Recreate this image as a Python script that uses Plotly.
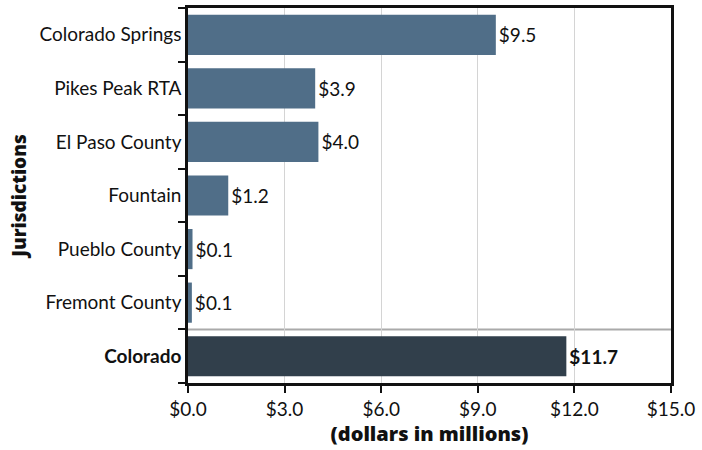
import plotly.graph_objects as go

categories = ["Colorado", "Fremont County", "Pueblo County", "Fountain",
              "El Paso County", "Pikes Peak RTA", "Colorado Springs"]
values = [11.75, 0.12, 0.14, 1.25, 4.05, 3.95, 9.56]
value_labels = ["$11.7", "$0.1", "$0.1", "$1.2", "$4.0", "$3.9", "$9.5"]
tick_labels = ["<b>Colorado</b>", "Fremont County", "Pueblo County", "Fountain",
               "El Paso County", "Pikes Peak RTA", "Colorado Springs"]
x_ticks = [0, 3, 6, 9, 12, 15]
x_tick_labels = ["$0.0", "$3.0", "$6.0", "$9.0", "$12.0", "$15.0"]

FONT = "Lato"
TITLE_FONT = "Open Sans"
colors = ["#313f4b"] + ["#506e88"] * 6
text_labels = ["<b>" + value_labels[0] + "</b>"] + value_labels[1:]

fig = go.Figure(go.Bar(
    x=values, y=categories, orientation="h",
    marker=dict(color=colors, line=dict(width=0)),
    text=text_labels, textposition="outside", cliponaxis=False,
    textfont=dict(family=FONT, size=19, color="#111"),
    hoverinfo="skip",
))

fig.add_shape(type="line", xref="paper", yref="y", x0=0, x1=1, y0=0.5, y1=0.5,
              line=dict(color="#aaaaaa", width=2), layer="below")

fig.update_layout(
    width=702, height=450,
    margin=dict(l=188, r=31, t=5, b=67),
    plot_bgcolor="white", paper_bgcolor="white",
    font=dict(family=FONT, size=19, color="#111"),
    bargap=0.25, showlegend=False,
    xaxis=dict(range=[0, 15], tickvals=x_ticks, ticktext=x_tick_labels,
               showgrid=True, gridcolor="#d4d4d4", gridwidth=1,
               showline=True, linecolor="#111", linewidth=2.5, mirror=True,
               ticks="outside", ticklen=7, tickcolor="#111", tickwidth=1.5,
               zeroline=False, tickfont=dict(size=19),
               title=dict(text="(dollars in millions)", standoff=6,
                          font=dict(family=TITLE_FONT, size=20, weight=800))),
    yaxis=dict(tickmode="array", tickvals=categories, ticktext=tick_labels,
               tickson="boundaries", ticks="outside", ticklen=7, tickcolor="#111",
               tickwidth=1.5, showgrid=False,
               showline=True, linecolor="#111", linewidth=2.5, mirror=True,
               title=dict(text="Jurisdictions", standoff=8,
                          font=dict(family=TITLE_FONT, size=19, weight=800))),
)

fig.write_html("out.html", post_script="document.body.style.margin='0';",
               config={"displayModeBar": False})
